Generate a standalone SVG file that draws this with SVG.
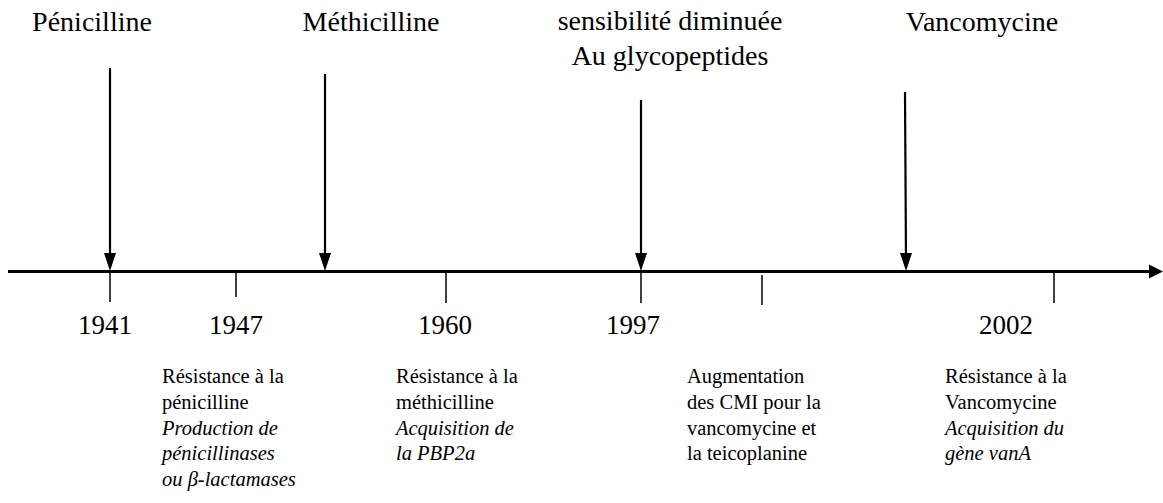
<svg xmlns="http://www.w3.org/2000/svg" width="1163" height="503" viewBox="0 0 1163 503">
<style>
text{font-family:'Liberation Serif','Tinos','Times New Roman','DejaVu Serif',serif;fill:#000}
.big{font-size:28px}
.yr{font-size:27px;text-anchor:middle}
.top{text-anchor:middle}
.sm{font-size:20.5px}
.it{font-style:italic}
.arr{stroke:#000;stroke-width:2.2;fill:none}
.tick{stroke:#000;stroke-width:1.5}
.axis{stroke:#000;stroke-width:3}
</style>
<defs>
<path id="hd" d="M-6,-18 L6,-18 L0,0 Z" fill="#000"/>
</defs>
<g id="connectors">
<line class="axis" x1="8" y1="271.5" x2="1150" y2="271.5"/>
<path d="M1149,264.5 L1163,271.5 L1149,278.5 Z" fill="#000"/>
<line class="arr" x1="110" y1="68" x2="110" y2="260"/>
<use href="#hd" x="110" y="271"/>
<line class="arr" x1="325" y1="74" x2="325" y2="260"/>
<use href="#hd" x="325" y="271"/>
<line class="arr" x1="641" y1="100" x2="641" y2="260"/>
<use href="#hd" x="641" y="271"/>
<line class="arr" x1="905" y1="92" x2="906" y2="260"/>
<use href="#hd" x="906" y="271"/>
<line class="tick" x1="110" y1="272" x2="110" y2="302"/>
<line class="tick" x1="236" y1="272" x2="236" y2="297"/>
<line class="tick" x1="446" y1="272" x2="446" y2="303"/>
<line class="tick" x1="641" y1="272" x2="641" y2="303"/>
<line class="tick" x1="762" y1="275" x2="762" y2="305"/>
<line class="tick" x1="1054" y1="272" x2="1054" y2="303"/>
</g>
<g id="penicilline">
<text class="big top" x="92" y="31">Pénicilline</text>
</g>
<g id="methicilline">
<text class="big top" x="371" y="31">Méthicilline</text>
</g>
<g id="glycopeptides">
<text class="big top" x="670" y="30">sensibilité diminuée</text>
<text class="big top" x="670" y="65">Au glycopeptides</text>
</g>
<g id="vancomycine">
<text class="big top" x="982" y="31">Vancomycine</text>
</g>
<g id="years">
<text class="yr" x="105" y="334">1941</text>
<text class="yr" x="236" y="334">1947</text>
<text class="yr" x="445" y="334">1960</text>
<text class="yr" x="633" y="334">1997</text>
<text class="yr" x="1006" y="334">2002</text>
</g>
<g id="note1">
<text class="sm" x="162" y="383">Résistance à la</text>
<text class="sm" x="162" y="408.5">pénicilline</text>
<text class="sm it" x="162" y="434.5">Production de</text>
<text class="sm it" x="162" y="460">pénicillinases</text>
<text class="sm it" x="162" y="486">ou β-lactamases</text>
</g>
<g id="note2">
<text class="sm" x="396" y="383">Résistance à la</text>
<text class="sm" x="396" y="408.5">méthicilline</text>
<text class="sm it" x="396" y="434.5">Acquisition de</text>
<text class="sm it" x="396" y="460">la PBP2a</text>
</g>
<g id="note3">
<text class="sm" x="687" y="383">Augmentation</text>
<text class="sm" x="687" y="408.5">des CMI pour la</text>
<text class="sm" x="687" y="434.5">vancomycine et</text>
<text class="sm" x="687" y="460">la teicoplanine</text>
</g>
<g id="note4">
<text class="sm" x="945" y="383">Résistance à la</text>
<text class="sm" x="945" y="408.5">Vancomycine</text>
<text class="sm it" x="945" y="434.5">Acquisition du</text>
<text class="sm it" x="945" y="460">gène vanA</text>
</g>
</svg>
